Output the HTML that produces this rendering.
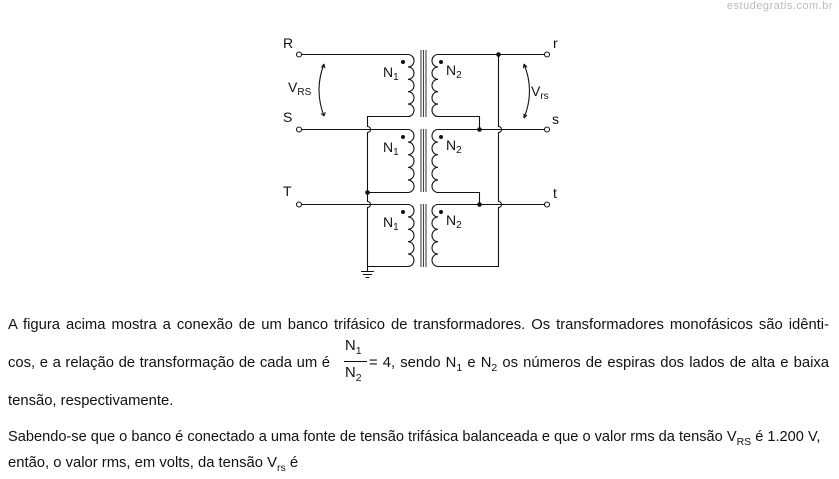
<!DOCTYPE html>
<html><head><meta charset="utf-8"><style>
body{margin:0;width:839px;height:479px;background:#fff;position:relative;overflow:hidden;font-family:"Liberation Sans",Arial,sans-serif;color:#111}
.t{position:absolute;left:8px;font-size:14.8px;white-space:nowrap}
.j{width:821px;text-align:justify;text-align-last:justify;white-space:normal}
sub{font-size:10.5px;vertical-align:-4px;line-height:0}
.wm{position:absolute;right:6px;top:0;font-size:11px;color:#bbb;letter-spacing:0.5px}
</style></head><body>
<div class="wm">estudegratis.com.br</div>
<svg width="839" height="300" style="position:absolute;left:0;top:0" font-family="Liberation Sans, Arial, sans-serif" fill="none" stroke="#111" stroke-width="1.1">
<path d="M302 54.5H408 M302 129.5H408 M302 204.5H408"/>
<circle cx="299" cy="54.5" r="2.5" fill="#fff"/><circle cx="299" cy="129.5" r="2.5" fill="#fff"/><circle cx="299" cy="204.5" r="2.5" fill="#fff"/>
<path d="M408 54.5 a6 6.2 0 0 1 0 12.4 a6 6.2 0 0 1 0 12.4 a6 6.2 0 0 1 0 12.4 a6 6.2 0 0 1 0 12.4 a6 6.2 0 0 1 0 12.4"/>
<path d="M408 129.5 a6 6.3 0 0 1 0 12.6 a6 6.3 0 0 1 0 12.6 a6 6.3 0 0 1 0 12.6 a6 6.3 0 0 1 0 12.6 a6 6.3 0 0 1 0 12.6"/>
<path d="M408 204.5 a6 6.2 0 0 1 0 12.4 a6 6.2 0 0 1 0 12.4 a6 6.2 0 0 1 0 12.4 a6 6.2 0 0 1 0 12.4 a6 6.2 0 0 1 0 12.4"/>
<path d="M408 116.5H367.5V126.5a3 3 0 0 1 0 6V201.5a3 3 0 0 1 0 6V266.5H408"/>
<path d="M408 192.5H367.5"/>
<circle cx="367.5" cy="192.5" r="2.3" fill="#111" stroke="none"/>
<path d="M367.5 266.5V271 M361 271.5H374 M363 274.5H372 M365.5 277.5H369.5"/>
<g stroke="#444">
<path d="M421 50V117 M423.5 50V117 M426 50V117"/>
<path d="M421 129V192 M423.5 129V192 M426 129V192"/>
<path d="M421 204V267 M423.5 204V267 M426 204V267"/>
</g>
<path d="M438 54.5 a6 6.2 0 0 0 0 12.4 a6 6.2 0 0 0 0 12.4 a6 6.2 0 0 0 0 12.4 a6 6.2 0 0 0 0 12.4 a6 6.2 0 0 0 0 12.4"/>
<path d="M438 129.5 a6 6.3 0 0 0 0 12.6 a6 6.3 0 0 0 0 12.6 a6 6.3 0 0 0 0 12.6 a6 6.3 0 0 0 0 12.6 a6 6.3 0 0 0 0 12.6"/>
<path d="M438 204.5 a6 6.2 0 0 0 0 12.4 a6 6.2 0 0 0 0 12.4 a6 6.2 0 0 0 0 12.4 a6 6.2 0 0 0 0 12.4 a6 6.2 0 0 0 0 12.4"/>
<path d="M438 54.5H544 M438 129.5H544 M438 204.5H544"/>
<path d="M438 116.5H479.5V129.5 M438 192.5H479.5V204.5"/>
<path d="M498.5 54.5V126.5a3 3 0 0 1 0 6V201.5a3 3 0 0 1 0 6V266.5H438"/>
<circle cx="498.5" cy="54.5" r="2.3" fill="#111" stroke="none"/>
<circle cx="479.5" cy="129.5" r="2.3" fill="#111" stroke="none"/>
<circle cx="479.5" cy="204.5" r="2.3" fill="#111" stroke="none"/>
<circle cx="547" cy="54.5" r="2.5" fill="#fff"/><circle cx="547" cy="129.5" r="2.5" fill="#fff"/><circle cx="547" cy="204.5" r="2.5" fill="#fff"/>
<g fill="#111" stroke="none">
<circle cx="403" cy="62" r="2"/><circle cx="441" cy="62" r="2"/>
<circle cx="403" cy="137" r="2"/><circle cx="441" cy="137" r="2"/>
<circle cx="403" cy="212" r="2"/><circle cx="441" cy="212" r="2"/>
</g>
<path d="M324 64 Q314 90 324 116"/>
<path d="M324 64l-2.5 3.5 M324 64l0.8 4.2 M324 116l-2.8-2.5 M324 116l1.2-3.8"/>
<path d="M524 64 Q535 91 524 118"/>
<path d="M524 64l-0.5 4.2 M524 64l3 3.2 M524 118l0 -4.2 M524 118l3-3"/>
<g fill="#111" stroke="none" font-size="14">
<text x="283" y="48">R</text><text x="283" y="122">S</text><text x="283" y="196">T</text>
<text x="553" y="48">r</text><text x="552" y="124">s</text><text x="553" y="198">t</text>
<text x="288" y="92">V<tspan font-size="10" dy="3">RS</tspan></text>
<text x="531" y="96">V<tspan font-size="10" dy="3">rs</tspan></text>
<text x="383" y="77">N<tspan font-size="10" dy="3">1</tspan></text>
<text x="446" y="75">N<tspan font-size="10" dy="3">2</tspan></text>
<text x="383" y="152">N<tspan font-size="10" dy="3">1</tspan></text>
<text x="446" y="150">N<tspan font-size="10" dy="3">2</tspan></text>
<text x="383" y="227">N<tspan font-size="10" dy="3">1</tspan></text>
<text x="446" y="225">N<tspan font-size="10" dy="3">2</tspan></text>
</g>
</svg>
<div class="t j" style="top:317px">A figura acima mostra a conexão de um banco trifásico de transformadores. Os transformadores monofásicos são idênti-</div>
<div class="t j" style="top:355px;width:322px">cos, e a relação de transformação de cada um é</div>
<div class="t j" style="top:355px;left:369px;width:460px">= 4, sendo N<sub>1</sub> e N<sub>2</sub> os números de espiras dos lados de alta e baixa</div>
<div class="t" style="left:345px;top:338px">N<sub>1</sub></div>
<div style="position:absolute;left:344px;top:361px;width:23px;border-top:1px solid #111"></div>
<div class="t" style="left:345px;top:365px">N<sub>2</sub></div>
<div class="t" style="top:393px">tensão, respectivamente.</div>
<div class="t" style="top:429px;font-size:14.6px">Sabendo-se que o banco é conectado a uma fonte de tensão trifásica balanceada e que o valor rms da tensão V<sub>RS</sub> é 1.200 V,</div>
<div class="t" style="top:455px">então, o valor rms, em volts, da tensão V<sub>rs</sub> é</div>
</body></html>
